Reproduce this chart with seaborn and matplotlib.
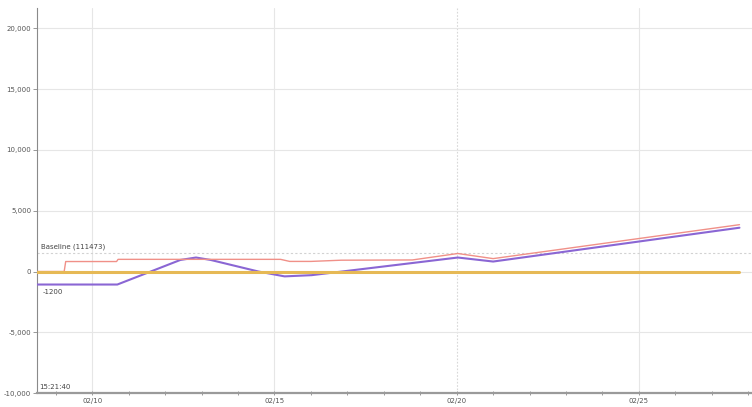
import matplotlib
matplotlib.use("Agg")
import matplotlib.pyplot as plt
import matplotlib.dates as mdates
from matplotlib.ticker import FuncFormatter
import pandas as pd
import seaborn as sns

# Cumulative series (purple)
purple_times = ["2024-02-08 11:30", "2024-02-10 16:30", "2024-02-11 14:30", "2024-02-12 10:00",
                "2024-02-12 20:20", "2024-02-13 06:00", "2024-02-14 13:25", "2024-02-15 06:40",
                "2024-02-16 00:30", "2024-02-16 20:30", "2024-02-20 00:45", "2024-02-21 00:00",
                "2024-02-27 18:15"]
purple_values = [-1070, -1070, 0, 950, 1150, 950, 0, -400, -300, 0, 1150, 820, 3600]

# Comparison series (red)
red_times = ["2024-02-08 11:30", "2024-02-09 05:30", "2024-02-09 06:30", "2024-02-10 16:00",
             "2024-02-10 17:00", "2024-02-15 04:00", "2024-02-15 10:00", "2024-02-16 00:00",
             "2024-02-16 20:00", "2024-02-18 18:45", "2024-02-20 00:45", "2024-02-21 00:00",
             "2024-02-27 18:15"]
red_values = [0, 0, 820, 820, 1000, 1000, 830, 830, 930, 950, 1480, 1060, 3850]

# Zero line (orange)
zero_times = ["2024-02-08 11:30", "2024-02-27 18:15"]
zero_values = [0, 0]

baseline_level = 1500
baseline_label = "Baseline (111473)"
start_label = "-1200"
time_label = "15:21:40"
y_ticks = [-10000, -5000, 0, 5000, 10000, 15000, 20000]

purple_df = pd.DataFrame({"t": pd.to_datetime(purple_times), "v": purple_values})
red_df = pd.DataFrame({"t": pd.to_datetime(red_times), "v": red_values})
zero_df = pd.DataFrame({"t": pd.to_datetime(zero_times), "v": zero_values})

sns.set_theme(style="white")
plt.rcParams["font.family"] = ["DejaVu Sans"]

fig = plt.figure(figsize=(7.52, 4.07), dpi=100)
ax = fig.add_axes([0.049, 0.034, 0.951, 0.946])

sns.lineplot(data=purple_df, x="t", y="v", ax=ax, color="#8a66d4", linewidth=1.5, zorder=3)
sns.lineplot(data=red_df, x="t", y="v", ax=ax, color="#f09088", linewidth=1.0, zorder=4)
sns.lineplot(data=zero_df, x="t", y="v", ax=ax, color="#e6b955", linewidth=2.2, zorder=5)

ax.axhline(baseline_level, color="#d2d2d2", linestyle=(0, (2, 2)), linewidth=0.8, zorder=1)

ax.set_xlim(pd.Timestamp("2024-02-08 11:30"), pd.Timestamp("2024-02-28 02:30"))
ax.set_ylim(-10000, 21650)
ax.set_xlabel("")
ax.set_ylabel("")

ax.set_yticks(y_ticks)
ax.yaxis.set_major_formatter(FuncFormatter(lambda v, p: f"{int(v):,}"))
ax.xaxis.set_major_locator(mdates.DayLocator(bymonthday=[10, 15, 20, 25]))
ax.xaxis.set_minor_locator(mdates.DayLocator())
ax.xaxis.set_major_formatter(mdates.DateFormatter("%m/%d"))

ax.tick_params(axis="y", which="major", left=True, length=3, width=0.6, color="#888888",
               labelsize=5, labelcolor="#555555", pad=1)
ax.tick_params(axis="x", which="major", bottom=True, length=3, width=0.6, color="#888888",
               labelsize=5, labelcolor="#555555", pad=2, direction="inout")
ax.tick_params(axis="x", which="minor", bottom=True, length=3, width=0.6, color="#888888",
               direction="inout")

ax.grid(True, which="major", color="#e6e6e6", linewidth=0.8)
xgrid = ax.get_xgridlines()
if len(xgrid) >= 3:
    xgrid[2].set_linestyle((0, (1.5, 1.5)))
    xgrid[2].set_color("#d8d8d8")
ax.set_axisbelow(True)

for side in ["top", "right"]:
    ax.spines[side].set_visible(False)
ax.spines["left"].set_color("#8a8a8a")
ax.spines["left"].set_linewidth(0.8)
ax.spines["bottom"].set_color("#9a9a9a")
ax.spines["bottom"].set_linewidth(1.6)

ax.text(pd.Timestamp("2024-02-08 14:00"), 1800, baseline_label, fontsize=5,
        color="#444444", va="bottom", ha="left", zorder=6)
ax.text(pd.Timestamp("2024-02-08 15:00"), -1450, start_label, fontsize=5,
        color="#444444", va="top", ha="left", zorder=6)
ax.text(0.004, 0.008, time_label, transform=ax.transAxes, fontsize=5,
        color="#444444", va="bottom", ha="left")

fig.savefig("out.png", dpi=100, facecolor="white")
